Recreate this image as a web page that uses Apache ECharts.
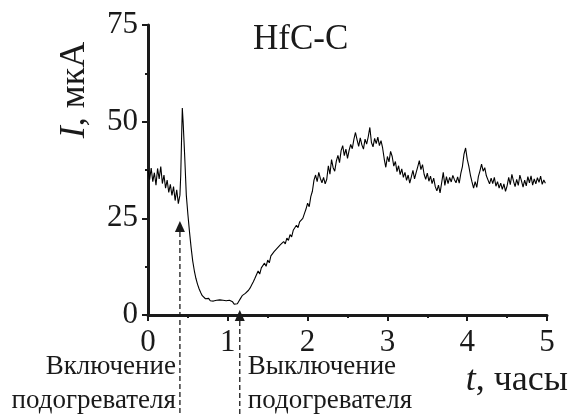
<!DOCTYPE html>
<html><head><meta charset="utf-8">
<script src="https://cdn.jsdelivr.net/npm/echarts@6/dist/echarts.min.js"></script>
<style>html,body{margin:0;padding:0;background:#fff}#c{width:573px;height:414px}</style>
</head><body><div id="c"></div>
<script>
const times = [
0.00,0.02,0.04,0.06,0.08,0.10,0.12,0.14,0.16,0.18,0.20,0.22,0.24,0.26,0.28,0.30,0.32,0.34,0.36,0.38,0.40,
0.41,0.42,0.43,0.44,0.45,0.46,0.47,0.48,0.50,0.52,0.54,0.56,0.58,0.60,0.62,0.64,0.66,0.68,0.70,0.72,
0.74,0.76,0.78,0.80,0.82,0.84,0.86,0.88,0.90,0.92,0.94,0.96,0.98,1.00,1.02,1.04,1.06,1.08,1.10,1.12,1.14,1.16,1.18,1.20,1.22,
1.24,1.26,1.28,1.30,1.32,1.34,1.36,1.38,1.40,1.42,1.44,1.46,1.48,1.50,1.52,1.54,1.56,1.58,1.60,1.62,1.64,1.66,1.68,1.70,1.72,1.74,1.76,1.78,1.80,1.82,1.84,1.86,1.88,1.90,1.92,
1.94,1.96,1.98,2.00,2.02,2.04,2.06,2.08,2.10,2.12,2.14,2.16,2.18,2.20,2.22,2.24,2.26,2.28,2.30,2.32,2.34,2.36,2.38,2.40,2.42,2.44,2.46,2.48,2.50,2.52,2.54,2.56,2.58,2.60,2.62,2.64,2.66,2.68,2.70,2.72,2.74,2.76,2.78,2.80,2.82,2.84,2.86,2.88,2.90,2.92,2.94,2.96,2.98,
3.00,3.02,3.04,3.06,3.08,3.10,3.12,3.14,3.16,3.18,3.20,3.22,3.24,3.26,3.28,3.30,3.32,3.34,3.36,3.38,3.40,3.42,3.44,3.46,3.48,3.50,3.52,3.54,3.56,3.58,3.60,3.62,3.64,3.66,3.68,3.70,3.72,3.74,3.76,3.78,3.80,3.82,3.84,
3.86,3.88,3.90,3.92,3.94,3.96,3.98,4.00,4.02,4.04,4.06,4.08,4.10,4.12,4.14,4.16,4.18,4.20,4.22,4.24,4.26,4.28,4.30,4.32,4.34,4.36,4.38,4.40,4.42,4.44,4.46,4.48,4.50,4.52,4.54,4.56,4.58,4.60,4.62,4.64,4.66,4.68,4.70,4.72,4.74,4.76,4.78,4.80,4.82,4.84,4.86,4.88,4.90,4.92,4.94,4.96,4.98
];
const current = [
37.5,35.0,38.0,34.5,36.8,33.6,37.9,35.2,38.4,34.0,36.2,32.8,34.9,31.7,33.8,30.9,33.2,29.6,32.4,28.8,31.0,
36.0,45.0,53.5,50.0,45.5,41.0,36.0,31.0,26.0,21.5,17.5,14.0,11.5,9.5,8.0,6.8,5.8,5.0,4.5,4.2,
3.9,4.3,3.7,4.1,3.6,4.0,3.8,3.5,3.9,3.6,3.8,3.5,3.7,3.6,3.8,3.5,3.4,2.8,2.5,2.9,3.6,4.3,5.0,5.4,5.6,
5.9,6.4,7.0,7.8,8.6,9.5,9.0,11.4,10.6,12.2,11.7,13.4,12.6,14.2,13.5,15.3,14.8,16.4,15.9,17.3,16.8,18.2,17.7,19.0,18.4,19.9,19.3,20.8,20.2,21.9,21.5,23.2,22.6,24.1,23.7,
25.0,26.2,27.4,28.9,28.0,30.6,32.0,34.9,36.2,34.5,36.9,35.3,34.2,35.6,33.9,35.1,38.6,36.4,40.2,38.1,37.2,39.8,41.3,39.4,42.5,43.8,41.2,42.9,40.5,42.6,44.1,43.0,45.4,47.2,45.3,43.6,45.8,44.0,42.9,45.5,44.2,46.1,48.5,44.6,43.5,45.7,44.3,46.0,43.8,45.1,43.2,40.4,38.2,
41.0,39.6,42.3,41.0,38.5,39.7,37.1,38.6,36.3,37.8,35.6,36.9,34.8,36.2,34.1,35.7,37.4,35.2,36.8,38.3,39.9,37.6,38.9,36.4,35.1,36.7,34.6,35.9,34.0,35.4,33.2,32.1,33.6,31.6,34.2,36.9,33.5,35.8,34.0,35.6,34.4,36.1,35.0,
34.2,35.7,34.1,36.6,38.4,41.6,43.2,40.3,38.5,36.2,34.4,32.8,34.5,33.0,35.8,37.3,39.0,37.2,38.1,36.0,36.2,33.9,35.4,34.0,35.6,33.3,34.5,32.8,34.1,32.5,33.9,32.0,33.4,35.6,33.7,36.4,34.6,33.2,35.1,33.5,36.2,34.7,33.1,34.9,33.4,35.8,34.2,36.0,33.6,35.2,33.9,35.5,34.3,35.9,33.8,34.9,34.1
];
const xTicks = [0, 1, 2, 3, 4, 5];
const yTicks = [0, 25, 50, 75];
const markerTimes = [0.40, 1.15];
const markerTips = [24.3, 1.3];
const markerLabels = ['Включение\nподогревателя', 'Выключение\nподогревателя'];
const markerSides = ['left', 'right'];
const titleText = 'HfC-C';
const yName = 'I';
const yUnit = ', мкА';
const xName = 't';
const xUnit = ', часы';

const FONT = '"Liberation Serif", "DejaVu Serif", serif';
const INK = '#1a1a1a';

const lineData = times.map((t, i) => [t, current[i]]);
const markerData = markerTimes.map((t, i) => [t, markerTips[i], i]);

const chart = echarts.init(document.getElementById('c'), null, {renderer: 'canvas'});
const axisCommon = {
  type: 'value',
  axisLine: {show: true, onZero: false, lineStyle: {color: INK, width: 3}},
  axisTick: {show: true, length: 6, lineStyle: {color: INK, width: 2}},
  minorTick: {show: true, splitNumber: 2, length: 3, lineStyle: {color: INK, width: 2}},
  splitLine: {show: false},
  minorSplitLine: {show: false},
  axisLabel: {color: INK, fontFamily: FONT, fontSize: 31}
};
function nameStyle(name, unit) {
  return {
    text: '{i|' + name + '}{n|' + unit + '}',
    fill: INK,
    font: '36px ' + FONT,
    rich: {
      i: {font: 'italic 36px ' + FONT, fontStyle: 'italic', fontFamily: FONT, fontSize: 36, fill: INK},
      n: {font: '36px ' + FONT, fontFamily: FONT, fontSize: 36, fill: INK}
    }
  };
}
chart.setOption({
  animation: false,
  backgroundColor: '#fff',
  title: {
    text: titleText, left: 248, top: 17,
    textStyle: {fontFamily: FONT, fontSize: 35, fontWeight: 'normal', color: INK}
  },
  grid: {left: 148, right: 26, top: 25, bottom: 99, containLabel: false},
  xAxis: Object.assign({}, axisCommon, {
    min: xTicks[0], max: xTicks[xTicks.length - 1], interval: 1,
    axisLabel: Object.assign({}, axisCommon.axisLabel, {margin: 12})
  }),
  yAxis: Object.assign({}, axisCommon, {
    min: yTicks[0], max: yTicks[yTicks.length - 1], interval: 25,
    axisLabel: Object.assign({}, axisCommon.axisLabel, {margin: 10})
  }),
  graphic: [
    {
      type: 'text', x: 75, y: 90, rotation: Math.PI / 2,
      style: Object.assign(nameStyle(yName, yUnit), {align: 'center', verticalAlign: 'middle'})
    },
    {
      type: 'text', x: 568, y: 381,
      style: Object.assign(nameStyle(xName, xUnit), {align: 'right', verticalAlign: 'middle'})
    }
  ],
  series: [
    {
      type: 'line', data: lineData, showSymbol: false, symbol: 'none',
      sampling: null, lineStyle: {color: '#000', width: 1.1}, z: 3
    },
    {
      type: 'custom', data: markerData, clip: false, z: 4,
      encode: {x: 0, y: 1},
      renderItem: function (params, api) {
        const t = api.value(0), tip = api.value(1), idx = api.value(2);
        const p = api.coord([t, tip]);
        const base = api.coord([t, 0]);
        const bottom = api.getHeight();
        const head = 11;
        const left = markerSides[idx] === 'left';
        return {
          type: 'group',
          children: [
            {type: 'polygon', shape: {points: [[p[0], p[1]], [p[0] - 5, p[1] + head], [p[0] + 5, p[1] + head]]},
             style: {fill: INK}},
            {type: 'line', shape: {x1: p[0], y1: p[1] + head, x2: p[0], y2: bottom},
             style: {stroke: INK, lineWidth: 1.3, lineDash: [5, 3]}},
            {type: 'text', x: left ? p[0] - 4 : p[0] + 8, y: base[1] + 35,
             style: {text: markerLabels[idx], align: left ? 'right' : 'left', verticalAlign: 'top',
                     font: '27px ' + FONT, fontFamily: FONT, fontSize: 27, lineHeight: 34, fill: INK}}
          ]
        };
      }
    }
  ]
});
</script></body></html>
